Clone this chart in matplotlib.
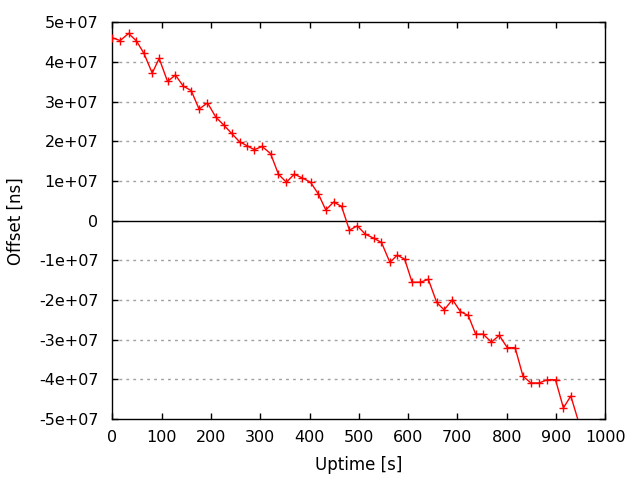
import numpy as np
import matplotlib
matplotlib.use("Agg")
import matplotlib.pyplot as plt

# uptime [s] and offset [ns]
uptime = [0, 16, 33, 49, 64, 81, 95, 112, 128, 144, 160, 176, 193, 210, 226,
          242, 258, 273, 288, 304, 321, 337, 353, 369, 385, 402, 418, 433, 449,
          465, 481, 497, 513, 530, 546, 563, 578, 593, 608, 625, 641, 658, 673,
          690, 706, 722, 737, 752, 769, 785, 801, 817, 833, 849, 866, 882, 899,
          915, 930, 946]
offset_e7 = [4.61, 4.54, 4.72, 4.53, 4.22, 3.72, 4.09, 3.51, 3.67, 3.39, 3.28,
             2.81, 2.97, 2.61, 2.41, 2.20, 1.99, 1.89, 1.79, 1.87, 1.69, 1.17,
             0.97, 1.17, 1.08, 0.97, 0.67, 0.27, 0.47, 0.36, -0.24, -0.13,
             -0.34, -0.44, -0.55, -1.05, -0.87, -0.97, -1.55, -1.55, -1.48,
             -2.06, -2.25, -1.99, -2.29, -2.39, -2.86, -2.86, -3.06, -2.89,
             -3.20, -3.20, -3.92, -4.09, -4.09, -4.01, -4.01, -4.72, -4.42,
             -5.08]

x = np.array(uptime, dtype=float)
y = np.array(offset_e7) * 1e7

yticks = np.arange(-5e7, 5.1e7, 1e7)
ytick_labels = ["-5e+07", "-4e+07", "-3e+07", "-2e+07", "-1e+07", "0",
                "1e+07", "2e+07", "3e+07", "4e+07", "5e+07"]
xticks = np.arange(0, 1001, 100)

plt.rcParams["font.family"] = "DejaVu Sans"

fig = plt.figure(figsize=(6.4, 4.8), dpi=100)
ax = fig.add_axes([0.1755, 0.127, 0.7703, 0.8265])

ax.set_xlim(0, 1000)
ax.set_ylim(-5e7, 5e7)

# horizontal grid + zero axis like gnuplot
for v in yticks[1:-1]:
    if v != 0:
        ax.axhline(v, color="#a0a0a0", lw=1.0, ls=(0, (2, 3)), zorder=1)
ax.axhline(0, color="black", lw=1.0, zorder=1)

ax.plot(x, y, color="red", lw=1.0, zorder=3)
inside = y >= -5e7
ax.plot(x[inside], y[inside], ls="none", marker="+", ms=5.5, mew=1.0,
        color="red", zorder=4)

ax.set_xticks(xticks)
ax.set_yticks(yticks)
ax.set_yticklabels(ytick_labels)
ax.tick_params(direction="in", length=4.5, width=1.0, top=True, right=True,
               labelsize=11.5, colors="black")
ax.tick_params(axis="x", pad=8)
ax.tick_params(axis="y", pad=10)
for s in ax.spines.values():
    s.set_linewidth(1.0)

ax.set_xlabel("Uptime [s]", fontsize=12, labelpad=8)
ax.set_ylabel("Offset [ns]", fontsize=12, labelpad=10)

fig.savefig("out.png", dpi=100)
